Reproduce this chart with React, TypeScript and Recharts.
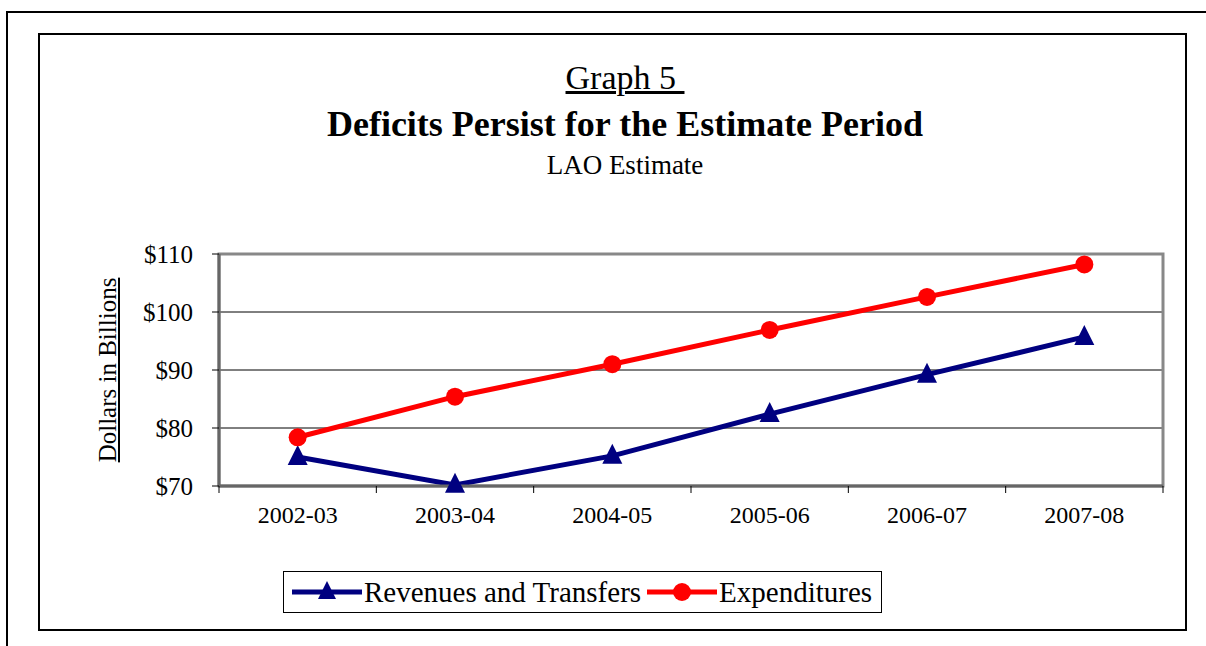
import React from 'react';
import { LineChart, Line, XAxis, YAxis, CartesianGrid, ReferenceArea } from 'recharts';

const categories = ['2002-03', '2003-04', '2004-05', '2005-06', '2006-07', '2007-08'];
const revenues = [75.0, 70.2, 75.2, 82.4, 89.2, 95.7];
const expenditures = [78.4, 85.4, 91.0, 96.9, 102.6, 108.2];
const yTicks = [70, 80, 90, 100, 110];
const seriesNames = ['Revenues and Transfers', 'Expenditures'];
const seriesColors = ['#000080', '#FF0000'];

const data = categories.map((c, i) => ({ year: c, rev: revenues[i], exp: expenditures[i] }));

const FONT = '"Liberation Serif", "Times New Roman", serif';

const Triangle = (props: any) => {
  const { cx, cy, key, index } = props;
  if (cx == null || cy == null) return <g key={key ?? index} />;
  return (
    <path
      key={key ?? `t${index}`}
      d={`M${cx},${cy - 12} L${cx + 10},${cy + 8} L${cx - 10},${cy + 8} Z`}
      fill="#000080"
    />
  );
};

const Circle = (props: any) => {
  const { cx, cy, key, index } = props;
  if (cx == null || cy == null) return <g key={key ?? index} />;
  return <circle key={key ?? `c${index}`} cx={cx} cy={cy} r={9} fill="#FF0000" />;
};

const XTick = (props: any) => {
  const { x, y, payload, index, visibleTicksCount } = props;
  const half = payload && payload.offset ? payload.offset : 944 / 12;
  const last = index === (visibleTicksCount ?? categories.length) - 1;
  return (
    <g>
      <line x1={x - half} x2={x - half} y1={y} y2={y + 7} stroke="#000" strokeWidth={1} />
      {last && <line x1={x + half} x2={x + half} y1={y} y2={y + 7} stroke="#000" strokeWidth={1} />}
      <text x={x} y={y + 37} textAnchor="middle" fontFamily={FONT} fontSize={24} fill="#000">
        {payload.value}
      </text>
    </g>
  );
};

const LegendIcon = ({ color, shape }: { color: string; shape: string }) => (
  <svg width={74} height={30} style={{ display: 'block' }}>
    <line x1={2} x2={72} y1={15} y2={15} stroke={color} strokeWidth={5} />
    {shape === 'triangle' ? (
      <path d="M37,4 L46,22 L28,22 Z" fill={color} />
    ) : (
      <circle cx={37} cy={15} r={9} fill={color} />
    )}
  </svg>
);

export default function App() {
  return (
    <div style={{ position: 'relative', width: 1206, height: 646, background: '#fff', fontFamily: FONT, overflow: 'hidden' }}>
      <style>{`body{margin:0;}`}</style>
      {/* outer frame */}
      <div style={{ position: 'absolute', left: 6, top: 11, width: 1300, height: 700, border: '2px solid #000', boxSizing: 'border-box' }} />
      {/* inner frame */}
      <div style={{ position: 'absolute', left: 38, top: 33, width: 1149, height: 598, border: '2px solid #000', boxSizing: 'border-box' }} />

      <div style={{ position: 'absolute', left: 0, width: 1250, top: 58, textAlign: 'center', fontSize: 34, lineHeight: '40px' }}>
        <span style={{ textDecoration: 'underline', whiteSpace: 'pre' }}>Graph 5 </span>
      </div>
      <div style={{ position: 'absolute', left: 0, width: 1250, top: 103, textAlign: 'center', fontSize: 36, fontWeight: 'bold', lineHeight: '42px' }}>
        Deficits Persist for the Estimate Period
      </div>
      <div style={{ position: 'absolute', left: 0, width: 1250, top: 149, textAlign: 'center', fontSize: 27, lineHeight: '32px' }}>
        LAO Estimate
      </div>

      <div style={{ position: 'absolute', left: 0, top: 0 }}>
        <LineChart width={1206} height={646} data={data} margin={{ top: 254, right: 43, bottom: 120, left: 139 }}>
          <CartesianGrid vertical={false} stroke="#000" strokeWidth={1} />
          <ReferenceArea y1={70} y2={110} fill="none" stroke="#888" strokeWidth={3} ifOverflow="visible" />
          <XAxis
            dataKey="year"
            scale="band"
            height={40}
            axisLine={{ stroke: '#666', strokeWidth: 3 }}
            tickLine={false}
            tickSize={0}
            tickMargin={0}
            tick={<XTick />}
            interval={0}
          />
          <YAxis
            width={80}
            domain={[70, 110]}
            ticks={yTicks}
            tickFormatter={(v: number) => `$${v}`}
            axisLine={{ stroke: '#666', strokeWidth: 3 }}
            tickLine={{ stroke: '#000', strokeWidth: 1 }}
            tickSize={7}
            tickMargin={19}
            tick={{ fontFamily: FONT, fontSize: 25, fill: '#000' }}
          />
          <Line
            dataKey="rev"
            name={seriesNames[0]}
            stroke={seriesColors[0]}
            strokeWidth={5}
            dot={Triangle}
            activeDot={false}
            isAnimationActive={false}
          />
          <Line
            dataKey="exp"
            name={seriesNames[1]}
            stroke={seriesColors[1]}
            strokeWidth={5}
            dot={Circle}
            activeDot={false}
            isAnimationActive={false}
          />
        </LineChart>
      </div>

      {/* Y axis title */}
      <div
        style={{
          position: 'absolute',
          left: 108,
          top: 370,
          transform: 'translate(-50%, -50%) rotate(-90deg)',
          whiteSpace: 'nowrap',
          fontSize: 25,
          lineHeight: '28px',
          textDecoration: 'underline',
        }}
      >
        Dollars in Billions
      </div>

      {/* Legend */}
      <div
        style={{
          position: 'absolute',
          left: 283,
          top: 571,
          width: 599,
          height: 42,
          border: '1px solid #000',
          boxSizing: 'border-box',
          display: 'flex',
          alignItems: 'center',
          paddingLeft: 6,
          fontSize: 29,
        }}
      >
        {seriesNames.map((n, i) => (
          <div key={n} style={{ display: 'flex', alignItems: 'center', marginRight: 4 }}>
            <LegendIcon color={seriesColors[i]} shape={i === 0 ? 'triangle' : 'circle'} />
            <span style={{ marginLeft: 0, lineHeight: '32px' }}>{n}</span>
          </div>
        ))}
      </div>
    </div>
  );
}
